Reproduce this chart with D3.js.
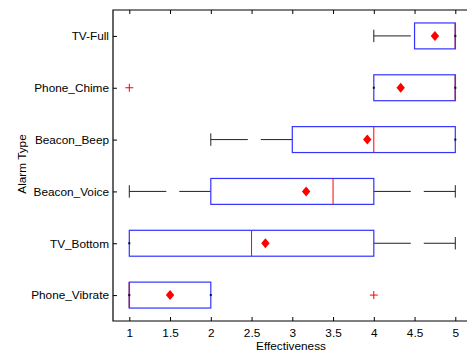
<!DOCTYPE html>
<html>
<head>
<meta charset="utf-8">
<script src="https://cdn.jsdelivr.net/npm/d3@7/dist/d3.min.js"></script>
<style>
  html, body { margin: 0; padding: 0; background: #fff; }
  svg { display: block; font-family: "Liberation Sans", Arial, Helvetica, sans-serif; }
</style>
</head>
<body>
<div id="chart"></div>
<script>
// alarm types, top to bottom
const categories = ['TV-Full', 'Phone_Chime', 'Beacon_Beep', 'Beacon_Voice', 'TV_Bottom', 'Phone_Vibrate'];
const q1 = [4.5, 4, 3, 2, 1, 1];
const medians = [5, 5, 4, 3.5, 2.5, 1];
const q3 = [5, 5, 5, 4, 4, 2];
const whiskerLow = [4, 4, 2, 1, 1, 1];
const whiskerHigh = [5, 5, 5, 5, 5, 2];
const means = [4.75, 4.33, 3.92, 3.17, 2.67, 1.5];
const outliers = [[], [1], [], [], [], [4]];
const xTicks = [1, 1.5, 2, 2.5, 3, 3.5, 4, 4.5, 5];

const width = 467, height = 353;
const plot = { left: 113, top: 10, bottom: 321 };
const fontSize = 11.8;

const svg = d3.select('#chart').append('svg')
  .attr('width', width)
  .attr('height', height);

const x = d3.scaleLinear().domain([0.8, 5.2]).range([plot.left, 471.6]);
const y = d3.scalePoint().domain(categories).range([plot.top, plot.bottom]).padding(0.5);
const halfBox = y.step() * 0.25;
const halfCap = y.step() * 0.12;

const g = svg.append('g');

// frame
g.append('path')
  .attr('d', `M${x.range()[1]},${plot.top}H${plot.left}V${plot.bottom}H${x.range()[1]}`)
  .attr('fill', 'none')
  .attr('stroke', '#000')
  .attr('stroke-width', 1.2);

// x ticks (bottom and top, pointing inward)
const xAxisBottom = d3.axisBottom(x).tickValues(xTicks).tickSizeInner(-4).tickSizeOuter(0).tickPadding(8)
  .tickFormat(d3.format('~g'));
const gx = g.append('g').attr('transform', `translate(0,${plot.bottom})`).call(xAxisBottom);
gx.select('.domain').remove();
gx.selectAll('text').attr('font-size', fontSize).attr('fill', '#000').attr('font-family', null);

const gxTop = g.append('g').attr('transform', `translate(0,${plot.top})`)
  .call(d3.axisTop(x).tickValues(xTicks).tickSizeInner(-4).tickSizeOuter(0).tickFormat(''));
gxTop.select('.domain').remove();

// y ticks
const gy = g.append('g').attr('transform', `translate(${plot.left},0)`)
  .call(d3.axisLeft(y).tickSizeInner(-4).tickSizeOuter(0).tickPadding(4));
gy.select('.domain').remove();
gy.selectAll('text').attr('font-size', fontSize).attr('fill', '#000').attr('font-family', null);

// axis titles
svg.append('text')
  .attr('x', 291).attr('y', 350)
  .attr('text-anchor', 'middle')
  .attr('font-size', fontSize)
  .text('Effectiveness');

svg.append('text')
  .attr('transform', `translate(26,164) rotate(-90)`)
  .attr('text-anchor', 'middle')
  .attr('font-size', fontSize)
  .text('Alarm Type');

// boxes
const rows = categories.map((c, i) => ({
  cat: c, q1: q1[i], med: medians[i], q3: q3[i],
  lo: whiskerLow[i], hi: whiskerHigh[i], mean: means[i], out: outliers[i]
}));

const box = g.selectAll('.box').data(rows).join('g').attr('class', 'box');

const dash = '37,13';

// lower whisker drawn from the cap toward the box
box.filter(d => d.lo < d.q1).append('line')
  .attr('x1', d => x(d.lo)).attr('x2', d => x(d.q1))
  .attr('y1', d => y(d.cat)).attr('y2', d => y(d.cat))
  .attr('stroke', '#222').attr('stroke-dasharray', dash);

box.filter(d => d.hi > d.q3).append('line')
  .attr('x1', d => x(d.q3)).attr('x2', d => x(d.hi))
  .attr('y1', d => y(d.cat)).attr('y2', d => y(d.cat))
  .attr('stroke', '#222').attr('stroke-dasharray', dash);

// caps
box.filter(d => d.lo < d.q1).append('line')
  .attr('x1', d => x(d.lo)).attr('x2', d => x(d.lo))
  .attr('y1', d => y(d.cat) - halfCap).attr('y2', d => y(d.cat) + halfCap)
  .attr('stroke', '#222');

box.filter(d => d.hi > d.q3).append('line')
  .attr('x1', d => x(d.hi)).attr('x2', d => x(d.hi))
  .attr('y1', d => y(d.cat) - halfCap).attr('y2', d => y(d.cat) + halfCap)
  .attr('stroke', '#222');

box.append('rect')
  .attr('x', d => x(d.q1))
  .attr('y', d => y(d.cat) - halfBox)
  .attr('width', d => x(d.q3) - x(d.q1))
  .attr('height', halfBox * 2)
  .attr('fill', 'none')
  .attr('stroke', '#3333ff')
  .attr('stroke-width', 1.2);

box.append('line')
  .attr('x1', d => x(d.med)).attr('x2', d => x(d.med))
  .attr('y1', d => y(d.cat) - halfBox).attr('y2', d => y(d.cat) + halfBox)
  .attr('stroke', d => (d.med === d.q1 || d.med === d.q3) ? '#a0206a' : '#ff0000')
  .attr('stroke-width', d => (d.med === d.q1 || d.med === d.q3) ? 1.5 : 1);

// zero-length whiskers show as small dots on the box edge
const dots = rows.flatMap(d => {
  const a = [];
  if (d.lo === d.q1) a.push({ cat: d.cat, v: d.lo });
  if (d.hi === d.q3) a.push({ cat: d.cat, v: d.hi });
  return a;
});
g.selectAll('.zdot').data(dots).join('rect')
  .attr('class', 'zdot')
  .attr('x', d => x(d.v) - 1).attr('y', d => y(d.cat) - 1)
  .attr('width', 2).attr('height', 2)
  .attr('fill', '#111');

// outliers
const outs = rows.flatMap(d => d.out.map(v => ({ cat: d.cat, v })));
g.selectAll('.outlier').data(outs).join('path')
  .attr('class', 'outlier')
  .attr('d', d => `M${x(d.v) - 4},${y(d.cat)}h8M${x(d.v)},${y(d.cat) - 4}v8`)
  .attr('stroke', '#ff0000')
  .attr('stroke-width', 1);

// means
g.selectAll('.mean').data(rows).join('path')
  .attr('class', 'mean')
  .attr('d', d => `M${x(d.mean)},${y(d.cat) - 5}l4.2,5l-4.2,5l-4.2,-5z`)
  .attr('fill', '#ff0000');
</script>
</body>
</html>
